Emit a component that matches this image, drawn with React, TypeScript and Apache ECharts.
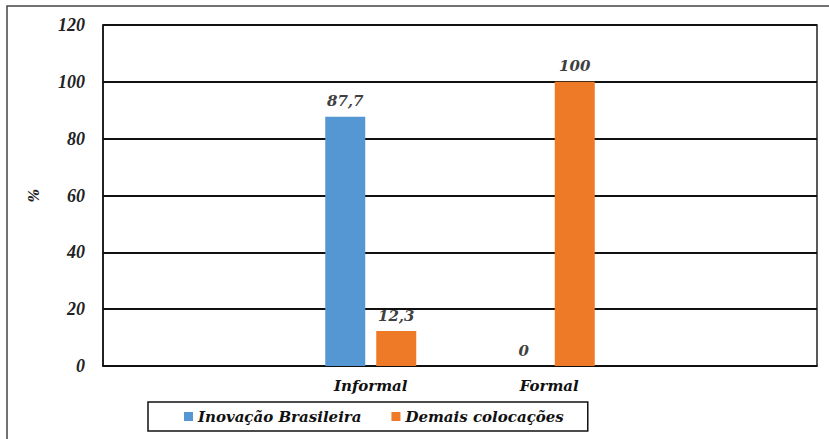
import React, { useEffect, useRef } from "react";
import * as echarts from "echarts";

const categories = ["", "Informal", "Formal", ""];
const seriesNames = ["Inovação Brasileira", "Demais colocações"];
const inovacao = [null, 87.7, 0, null];
const demais = [null, 12.3, 100, null];
const yTicks = { min: 0, max: 120, interval: 20 };

const serif = "'DejaVu Serif', 'Liberation Serif', serif";
const times = "'Liberation Serif', serif";

export default function App() {
  const ref = useRef<HTMLDivElement>(null);
  useEffect(() => {
    if (!ref.current) return;
    const chart = echarts.init(ref.current, null, { renderer: "svg" });
    const labelCfg = {
      show: true,
      position: "top",
      distance: 8,
      color: "#404040",
      fontFamily: serif,
      fontStyle: "italic",
      fontWeight: "bold",
      fontSize: 15,
      formatter: (p: any) => String(p.value).replace(".", ","),
    };
    chart.setOption({
      animation: false,
      backgroundColor: "#fff",
      graphic: [
        {
          type: "rect",
          shape: { x: 7, y: 6, width: 900, height: 500 },
          style: { fill: "none", stroke: "#444", lineWidth: 1.5 },
          z: -1,
        },
      ],
      grid: { left: 103, right: 12, top: 25, bottom: 73, show: true, borderColor: "#222", borderWidth: 1.5 },
      legend: {
        left: 148,
        top: 402,
        data: seriesNames,
        icon: "rect",
        itemWidth: 9,
        itemHeight: 9,
        itemGap: 30,
        borderColor: "#111",
        borderWidth: 1.5,
        borderRadius: 0,
        padding: [7, 24, 7, 36],
        textStyle: {
          fontFamily: serif,
          fontStyle: "italic",
          fontWeight: "bold",
          fontSize: 15,
          color: "#111",
        },
      },
      xAxis: {
        type: "category",
        data: categories,
        axisLine: { show: true, lineStyle: { color: "#111", width: 1.5 } },
        axisTick: { show: false },
        axisLabel: {
          margin: 12,
          color: "#111",
          fontFamily: serif,
          fontStyle: "italic",
          fontWeight: "bold",
          fontSize: 15,
        },
      },
      yAxis: {
        type: "value",
        min: yTicks.min,
        max: yTicks.max,
        interval: yTicks.interval,
        name: "%",
        nameLocation: "middle",
        nameGap: 62,
        nameTextStyle: { fontFamily: serif, fontStyle: "italic", fontWeight: "bold", fontSize: 14, color: "#222" },
        axisLine: { show: true, lineStyle: { color: "#111", width: 1.5 } },
        axisTick: { show: false },
        splitLine: { lineStyle: { color: "#111", width: 1.8 } },
        axisLabel: {
          margin: 18,
          color: "#222",
          fontFamily: times,
          fontStyle: "italic",
          fontWeight: "bold",
          fontSize: 18,
        },
      },
      series: [
        {
          name: seriesNames[0],
          type: "bar",
          data: inovacao,
          barWidth: 40,
          barGap: "27.5%",
          itemStyle: { color: "#5497D3" },
          label: labelCfg,
        },
        {
          name: seriesNames[1],
          type: "bar",
          data: demais,
          barWidth: 40,
          itemStyle: { color: "#EE7A27" },
          label: labelCfg,
        },
      ],
    });
    return () => chart.dispose();
  }, []);
  return (
    <div
      ref={ref}
      style={{ position: "fixed", left: 0, top: 0, width: 829, height: 439 }}
    />
  );
}
